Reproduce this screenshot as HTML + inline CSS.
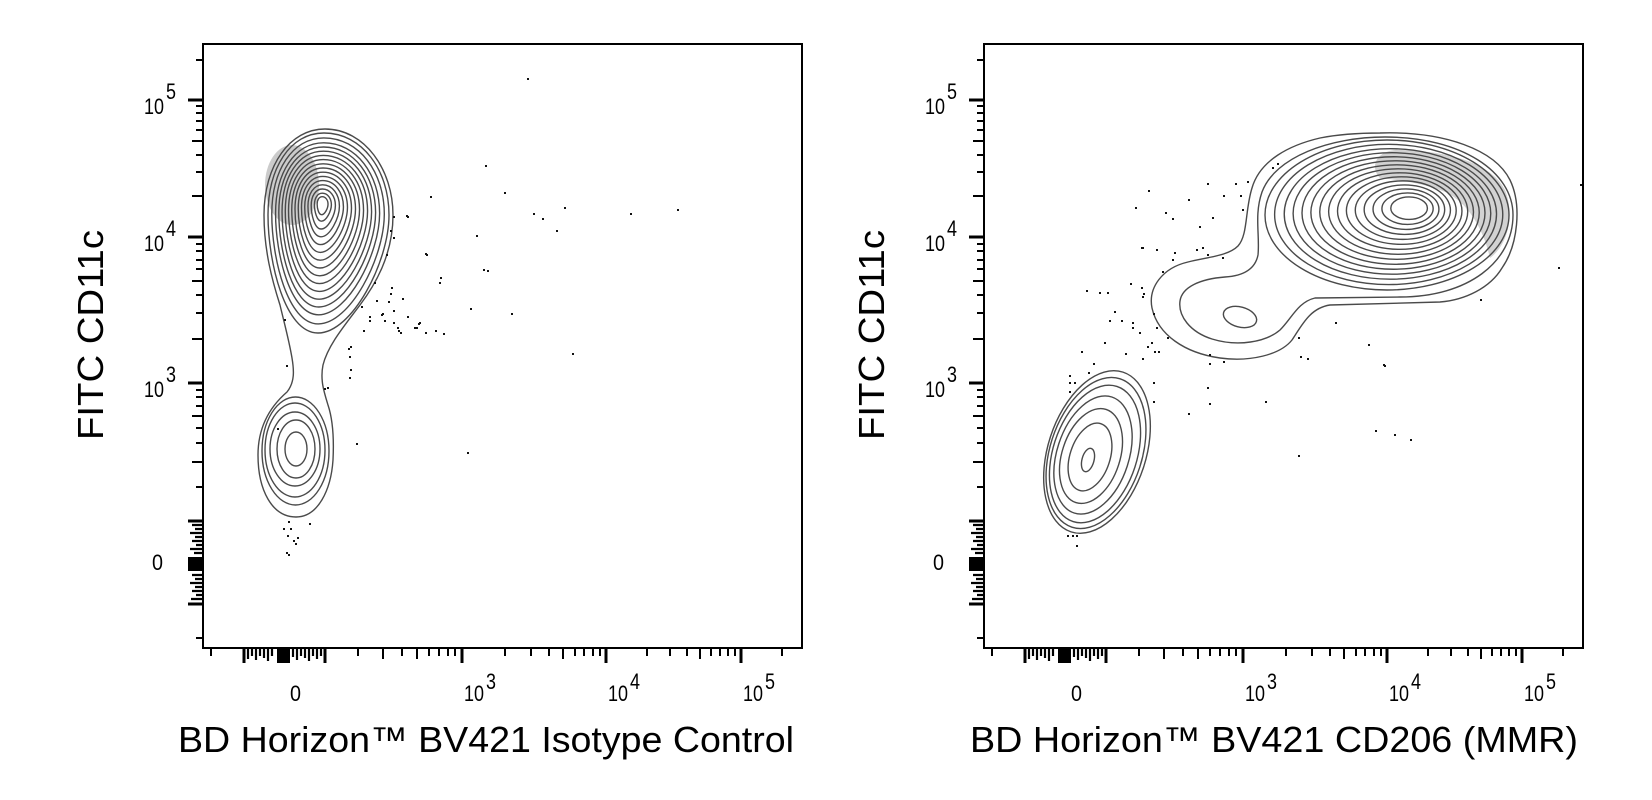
<!DOCTYPE html>
<html>
<head>
<meta charset="utf-8">
<style>
html,body{margin:0;padding:0;background:#fff;}
svg{display:block;}
text{font-family:"Liberation Sans",Arial,sans-serif;fill:#000;}
</style>
</head>
<body>
<svg width="1652" height="800" viewBox="0 0 1652 800" xmlns="http://www.w3.org/2000/svg">
<rect x="0" y="0" width="1652" height="800" fill="#fff"/>
<defs>
  <path id="eggL" d="M 324 133 C 362 133 389 170 389 215 C 389 262 352 333 318 333 C 285 333 268 262 268 215 C 268 168 290 133 324 133 Z" fill="none" stroke="#4a4a4a" stroke-width="1.4" vector-effect="non-scaling-stroke"/>
  <path id="blobR" d="M 1265 215 A 122 75 0 1 0 1509 215 A 122 75 0 1 0 1265 215 Z" fill="none" stroke="#4a4a4a" stroke-width="1.4" vector-effect="non-scaling-stroke"/>
  <g id="ticks" stroke="#000" fill="none">
    <path stroke-width="2" d="M196 60H203M196 106H203M196 113H203M196 121H203M196 130H203M196 155H203M196 172H203M196 244H203M196 251H203M196 260H203M196 269H203M196 295H203M196 313H203M196 390H203M196 397H203M196 406H203M196 428H203M196 443H203M196 487H203M196 638H203"/>
    <path stroke-width="2" d="M192 141H203M192 196H203M192 281H203M192 339H203M192 416H203M192 462H203"/>
    <path stroke-width="3" d="M188 100H203M188 237H203M188 383H203M188 521H203M188 604H203"/>
    <path stroke-width="2.2" d="M192 525H203M195 529H203M190 533H203M195 537H203M192 541H203M196 545H203M190 549H203M194 553H203M192 575H203M195 579H203M190 583H203M195 587H203M192 591H203M196 595H203M191 599H203"/>
    <rect x="188" y="557" width="15" height="14" fill="#000" stroke="none"/>
    <path stroke-width="2" d="M211 648V656M358 648V656M402 648V656M429 648V656M439 648V656M448 648V656M455 648V656M505 648V656M531 648V656M549 648V656M575 648V656M584 648V656M593 648V656M600 648V656M647 648V656M670 648V656M687 648V656M711 648V656M720 648V656M728 648V656M735 648V656M782 648V656"/>
    <path stroke-width="2" d="M383 648V659M417 648V659M563 648V659M700 648V659"/>
    <path stroke-width="3" d="M462 648V663M606 648V663M741 648V663M244 648V663M325 648V663"/>
    <path stroke-width="2.2" d="M248 648V659M252 648V656M256 648V660M260 648V656M264 648V658M268 648V661M272 648V656M293 648V657M297 648V660M301 648V656M305 648V658M309 648V661M313 648V656M317 648V659M321 648V656"/>
    <rect x="277" y="648" width="13" height="15" fill="#000" stroke="none"/>
  </g>
</defs>

<!-- ================= LEFT PLOT ================= -->
<ellipse cx="292" cy="185" rx="27" ry="40" fill="#6a6a6a" opacity="0.35"/>
<ellipse cx="322" cy="202" rx="5" ry="6" fill="#fff"/>
<path d="M 325 129 C 365 129 393 170 393 215 C 393 255 375 285 360 305 C 345 325 328 345 323 365 C 320 380 324 392 328 405 C 333 420 334 440 333 460 C 331 490 318 517 296 517 C 272 517 258 490 258 455 C 258 425 272 405 287 392 C 295 382 294 370 292 358 C 289 340 284 322 280 305 C 272 280 264 250 264 215 C 264 165 290 129 325 129 Z" fill="none" stroke="#4a4a4a" stroke-width="1.4"/>
<use href="#eggL"/>
<use href="#eggL" transform="matrix(0.93 0 0 0.93 22.54 14.21)"/>
<use href="#eggL" transform="matrix(0.86 0 0 0.86 45.08 28.42)"/>
<use href="#eggL" transform="matrix(0.80 0 0 0.80 64.4 40.6)"/>
<use href="#eggL" transform="matrix(0.74 0 0 0.74 83.72 52.78)"/>
<use href="#eggL" transform="matrix(0.68 0 0 0.68 103.04 64.96)"/>
<use href="#eggL" transform="matrix(0.62 0 0 0.62 122.36 77.14)"/>
<use href="#eggL" transform="matrix(0.56 0 0 0.56 141.68 89.32)"/>
<use href="#eggL" transform="matrix(0.50 0 0 0.50 161 101.5)"/>
<use href="#eggL" transform="matrix(0.44 0 0 0.44 180.32 113.68)"/>
<use href="#eggL" transform="matrix(0.38 0 0 0.38 199.64 125.86)"/>
<use href="#eggL" transform="matrix(0.32 0 0 0.32 218.96 138.04)"/>
<use href="#eggL" transform="matrix(0.26 0 0 0.26 238.28 150.22)"/>
<use href="#eggL" transform="matrix(0.20 0 0 0.20 257.6 162.4)"/>
<use href="#eggL" transform="matrix(0.14 0 0 0.14 276.92 174.58)"/>
<use href="#eggL" transform="matrix(0.09 0 0 0.09 293.02 184.73)"/>
<g fill="none" stroke="#4a4a4a" stroke-width="1.4">
  <ellipse cx="296" cy="449" rx="11" ry="17"/>
  <ellipse cx="296" cy="449" rx="19" ry="29"/>
  <ellipse cx="295" cy="449" rx="25" ry="37"/>
  <ellipse cx="295" cy="450" rx="30" ry="47"/>
  <ellipse cx="295.5" cy="451" rx="33.5" ry="54"/>
</g>
<path fill="#111" d="M527 78h2v2h-2zM485 165h2v2h-2zM430 196h2v2h-2zM504 192h2v2h-2zM533 213h2v2h-2zM542 218h2v2h-2zM564 207h2v2h-2zM556 230h2v2h-2zM630 213h2v2h-2zM677 209h2v2h-2zM476 235h2v2h-2zM406 215h2v2h-2zM425 253h2v2h-2zM440 277h2v2h-2zM439 282h2v2h-2zM483 269h2v2h-2zM487 270h2v2h-2zM470 308h2v2h-2zM511 313h2v2h-2zM572 353h2v2h-2zM467 452h2v2h-2zM356 443h2v2h-2zM361 306h2v2h-2zM369 316h2v2h-2zM376 300h2v2h-2zM381 314h2v2h-2zM390 293h2v2h-2zM393 322h2v2h-2zM398 330h2v2h-2zM407 316h2v2h-2zM414 327h2v2h-2zM419 322h2v2h-2zM425 332h2v2h-2zM435 330h2v2h-2zM443 333h2v2h-2zM348 348h2v2h-2zM350 369h2v2h-2zM327 387h2v2h-2zM284 319h2v2h-2zM286 365h2v2h-2zM324 388h2v2h-2zM277 428h2v2h-2zM349 377h2v2h-2zM349 356h2v2h-2zM350 346h2v2h-2zM363 330h2v2h-2zM369 320h2v2h-2zM382 313h2v2h-2zM393 310h2v2h-2zM384 320h2v2h-2zM397 327h2v2h-2zM400 332h2v2h-2zM416 327h2v2h-2zM418 323h2v2h-2zM388 301h2v2h-2zM407 216h2v2h-2zM426 254h2v2h-2zM393 216h2v2h-2zM390 230h2v2h-2zM393 237h2v2h-2zM386 254h2v2h-2zM391 287h2v2h-2zM402 298h2v2h-2zM374 282h2v2h-2zM288 521h2v2h-2zM283 528h2v2h-2zM290 528h2v2h-2zM287 535h2v2h-2zM297 537h2v2h-2zM293 540h2v2h-2zM295 543h2v2h-2zM286 552h2v2h-2zM288 554h2v2h-2zM309 523h2v2h-2z"/>

<rect x="203" y="44" width="599" height="604" fill="none" stroke="#000" stroke-width="2"/>
<use href="#ticks"/>

<!-- ================= RIGHT PLOT ================= -->
<path d="M 1395 150 C 1440 150 1490 160 1505 190 C 1515 215 1508 245 1490 258 C 1485 235 1470 200 1440 190 C 1420 183 1400 180 1380 178 C 1370 168 1375 152 1395 150 Z" fill="#6a6a6a" opacity="0.3"/>
<ellipse cx="1413" cy="207" rx="15" ry="7" fill="#fff"/>
<g fill="none" stroke="#4a4a4a" stroke-width="1.4">
  <path d="M 1380 133 C 1445 131 1495 150 1510 180 C 1522 205 1518 245 1502 268 C 1490 288 1465 300 1440 302 L 1330 305 C 1310 308 1302 325 1292 340 C 1280 355 1250 362 1220 358 C 1185 353 1158 335 1152 308 C 1148 288 1162 268 1188 262 C 1208 257 1228 256 1238 246 C 1248 235 1245 210 1252 188 C 1260 160 1290 145 1320 138 C 1340 134 1360 133 1380 133 Z"/>
  <path d="M 1385 137 C 1462 137 1513 172 1513 215 C 1513 262 1468 297 1400 297 L 1315 298 C 1298 302 1292 318 1280 330 C 1266 342 1238 347 1212 339 C 1190 332 1178 316 1180 301 C 1182 287 1200 279 1225 277 C 1242 276 1255 270 1258 255 C 1260 235 1254 215 1262 192 C 1275 157 1330 137 1385 137 Z"/>
  <ellipse cx="1240" cy="317" rx="17" ry="10" transform="rotate(15 1240 317)"/>
  <ellipse cx="1097" cy="452" rx="49" ry="84" transform="rotate(18 1097 452)"/>
  <ellipse cx="1096" cy="453" rx="46" ry="78" transform="rotate(18 1096 453)"/>
  <ellipse cx="1095" cy="454" rx="42" ry="71" transform="rotate(18 1095 454)"/>
  <ellipse cx="1093" cy="455" rx="36" ry="61" transform="rotate(18 1093 455)"/>
  <ellipse cx="1091" cy="456" rx="29" ry="49" transform="rotate(18 1091 456)"/>
  <ellipse cx="1090" cy="457" rx="20" ry="35" transform="rotate(18 1090 457)"/>
  <ellipse cx="1088" cy="460" rx="6" ry="12" transform="rotate(15 1088 460)"/>
</g>
<use href="#blobR"/>
<use href="#blobR" transform="matrix(0.935 0 0 0.935 91.845 13.455)"/>
<use href="#blobR" transform="matrix(0.87 0 0 0.87 183.69 26.91)"/>
<use href="#blobR" transform="matrix(0.81 0 0 0.81 268.47 39.33)"/>
<use href="#blobR" transform="matrix(0.75 0 0 0.75 353.25 51.75)"/>
<use href="#blobR" transform="matrix(0.69 0 0 0.69 438.03 64.17)"/>
<use href="#blobR" transform="matrix(0.63 0 0 0.63 522.81 76.59)"/>
<use href="#blobR" transform="matrix(0.57 0 0 0.57 607.59 89.01)"/>
<use href="#blobR" transform="matrix(0.51 0 0 0.51 692.37 101.43)"/>
<use href="#blobR" transform="matrix(0.45 0 0 0.45 777.15 113.85)"/>
<use href="#blobR" transform="matrix(0.39 0 0 0.39 861.93 126.27)"/>
<use href="#blobR" transform="matrix(0.33 0 0 0.33 946.71 138.69)"/>
<use href="#blobR" transform="matrix(0.27 0 0 0.27 1031.49 151.11)"/>
<use href="#blobR" transform="matrix(0.21 0 0 0.21 1116.27 163.53)"/>
<use href="#blobR" transform="matrix(0.15 0 0 0.15 1201.05 175.95)"/>
<path fill="#111" d="M1141 247h2v2h-2zM1156 249h2v2h-2zM1174 252h2v2h-2zM1196 249h2v2h-2zM1202 247h2v2h-2zM1207 254h2v2h-2zM1222 257h2v2h-2zM1172 259h2v2h-2zM1162 271h2v2h-2zM1130 283h2v2h-2zM1141 287h2v2h-2zM1143 293h2v2h-2zM1142 296h2v2h-2zM1086 290h2v2h-2zM1099 292h2v2h-2zM1107 292h2v2h-2zM1114 311h2v2h-2zM1153 313h2v2h-2zM1109 320h2v2h-2zM1121 320h2v2h-2zM1132 322h2v2h-2zM1132 327h2v2h-2zM1139 332h2v2h-2zM1156 327h2v2h-2zM1167 337h2v2h-2zM1104 342h2v2h-2zM1147 346h2v2h-2zM1151 342h2v2h-2zM1154 351h2v2h-2zM1158 351h2v2h-2zM1125 353h2v2h-2zM1142 358h2v2h-2zM1081 351h2v2h-2zM1093 363h2v2h-2zM1088 372h2v2h-2zM1069 375h2v2h-2zM1069 382h2v2h-2zM1074 382h2v2h-2zM1069 391h2v2h-2zM1153 382h2v2h-2zM1153 401h2v2h-2zM1188 413h2v2h-2zM1207 387h2v2h-2zM1209 403h2v2h-2zM1209 354h2v2h-2zM1209 363h2v2h-2zM1223 361h2v2h-2zM1265 401h2v2h-2zM1076 545h2v2h-2zM1067 535h2v2h-2zM1072 535h2v2h-2zM1076 535h2v2h-2zM1148 190h2v2h-2zM1135 207h2v2h-2zM1165 212h2v2h-2zM1172 218h2v2h-2zM1188 199h2v2h-2zM1207 183h2v2h-2zM1223 195h2v2h-2zM1235 183h2v2h-2zM1247 181h2v2h-2zM1240 195h2v2h-2zM1242 209h2v2h-2zM1212 217h2v2h-2zM1199 226h2v2h-2zM1142 247h2v2h-2zM1480 299h2v2h-2zM1368 344h2v2h-2zM1335 322h2v2h-2zM1298 337h2v2h-2zM1384 365h2v2h-2zM1300 356h2v2h-2zM1307 358h2v2h-2zM1272 167h2v2h-2zM1277 163h2v2h-2zM1580 184h2v2h-2zM1558 267h2v2h-2zM1394 434h2v2h-2zM1410 439h2v2h-2zM1375 430h2v2h-2zM1298 455h2v2h-2zM1383 364h2v2h-2z"/>

<rect x="984" y="44" width="599" height="604" fill="none" stroke="#000" stroke-width="2"/>
<use href="#ticks" transform="translate(781,0)"/>

<!-- ================= TICK LABELS ================= -->
<g font-size="22">
  <text x="144" y="114" textLength="20" lengthAdjust="spacingAndGlyphs">10</text>
  <text x="166" y="99" textLength="10" lengthAdjust="spacingAndGlyphs">5</text>
  <text x="144" y="251" textLength="20" lengthAdjust="spacingAndGlyphs">10</text>
  <text x="166" y="236" textLength="10" lengthAdjust="spacingAndGlyphs">4</text>
  <text x="144" y="397" textLength="20" lengthAdjust="spacingAndGlyphs">10</text>
  <text x="166" y="382" textLength="10" lengthAdjust="spacingAndGlyphs">3</text>
  <text x="152" y="570" textLength="11" lengthAdjust="spacingAndGlyphs">0</text>
  <text x="290" y="701" textLength="11" lengthAdjust="spacingAndGlyphs">0</text>
  <text x="464" y="701" textLength="20" lengthAdjust="spacingAndGlyphs">10</text>
  <text x="486" y="689" textLength="10" lengthAdjust="spacingAndGlyphs">3</text>
  <text x="608" y="701" textLength="20" lengthAdjust="spacingAndGlyphs">10</text>
  <text x="630" y="689" textLength="10" lengthAdjust="spacingAndGlyphs">4</text>
  <text x="743" y="701" textLength="20" lengthAdjust="spacingAndGlyphs">10</text>
  <text x="765" y="689" textLength="10" lengthAdjust="spacingAndGlyphs">5</text>
  <text x="925" y="114" textLength="20" lengthAdjust="spacingAndGlyphs">10</text>
  <text x="947" y="99" textLength="10" lengthAdjust="spacingAndGlyphs">5</text>
  <text x="925" y="251" textLength="20" lengthAdjust="spacingAndGlyphs">10</text>
  <text x="947" y="236" textLength="10" lengthAdjust="spacingAndGlyphs">4</text>
  <text x="925" y="397" textLength="20" lengthAdjust="spacingAndGlyphs">10</text>
  <text x="947" y="382" textLength="10" lengthAdjust="spacingAndGlyphs">3</text>
  <text x="933" y="570" textLength="11" lengthAdjust="spacingAndGlyphs">0</text>
  <text x="1071" y="701" textLength="11" lengthAdjust="spacingAndGlyphs">0</text>
  <text x="1245" y="701" textLength="20" lengthAdjust="spacingAndGlyphs">10</text>
  <text x="1267" y="689" textLength="10" lengthAdjust="spacingAndGlyphs">3</text>
  <text x="1389" y="701" textLength="20" lengthAdjust="spacingAndGlyphs">10</text>
  <text x="1411" y="689" textLength="10" lengthAdjust="spacingAndGlyphs">4</text>
  <text x="1524" y="701" textLength="20" lengthAdjust="spacingAndGlyphs">10</text>
  <text x="1546" y="689" textLength="10" lengthAdjust="spacingAndGlyphs">5</text>
</g>

<!-- ================= AXIS TITLES ================= -->
<g font-size="36">
  <text x="178" y="752" textLength="616" lengthAdjust="spacingAndGlyphs">BD Horizon™ BV421 Isotype Control</text>
  <text x="970" y="752" textLength="608" lengthAdjust="spacingAndGlyphs">BD Horizon™ BV421 CD206 (MMR)</text>
  <text x="0" y="0" text-anchor="middle" textLength="210" lengthAdjust="spacingAndGlyphs" transform="translate(103,335) rotate(-90)">FITC CD11c</text>
  <text x="0" y="0" text-anchor="middle" textLength="210" lengthAdjust="spacingAndGlyphs" transform="translate(884,335) rotate(-90)">FITC CD11c</text>
</g>
</svg>
</body>
</html>
